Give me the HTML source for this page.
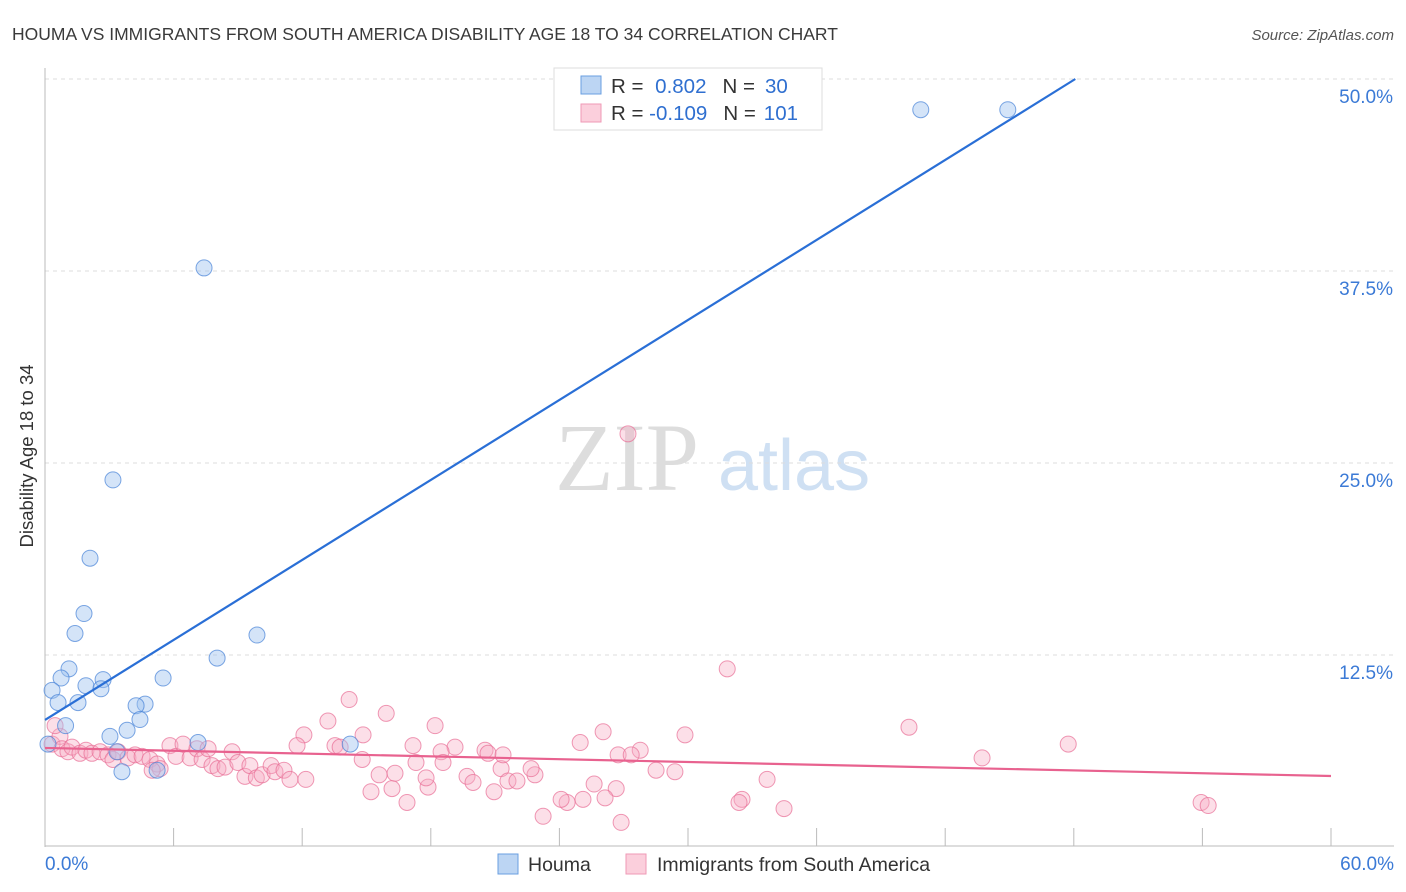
<!DOCTYPE html>
<html><head><meta charset="utf-8"><style>
body{margin:0;background:#fff;font-family:"Liberation Sans",sans-serif;}
svg{display:block}
</style></head><body>
<svg id="c" width="1406" height="892">
<text x="12" y="40" font-size="17.5" fill="#3a3a3a">HOUMA VS IMMIGRANTS FROM SOUTH AMERICA DISABILITY AGE 18 TO 34 CORRELATION CHART</text>
<text x="1394" y="40" font-size="15" fill="#555" font-style="italic" text-anchor="end">Source: ZipAtlas.com</text>
<text x="33" y="456" font-size="18.5" fill="#333" text-anchor="middle" transform="rotate(-90 33 456)">Disability Age 18 to 34</text>
<text x="555" y="490" font-size="96" fill="#ddd" font-family="Liberation Serif,serif">ZIP</text>
<text x="718" y="490" font-size="72" fill="#cfe0f3">atlas</text>
<g id="grid"></g><g id="axes"></g><g id="pts"></g><g id="lines"></g>
<g>
<rect x="554" y="68" width="268" height="62" fill="#fff" stroke="#ddd"/>
<rect x="581" y="76" width="20" height="18" fill="#bcd5f3" stroke="#6a9fe0"/>
<rect x="581" y="104" width="20" height="18" fill="#fbcfdc" stroke="#ef9ab6"/>
<text x="611" y="93" font-size="20.5" fill="#333">R = <tspan fill="#2f6fd0" dx="6">0.802</tspan><tspan dx="16" fill="#333">N =</tspan><tspan fill="#2f6fd0" dx="10">30</tspan></text>
<text x="611" y="120" font-size="20.5" fill="#333">R = <tspan fill="#2f6fd0">-0.109</tspan><tspan dx="16" fill="#333">N =</tspan><tspan fill="#2f6fd0" dx="8">101</tspan></text>
</g>
<g>
<rect x="498" y="854" width="20" height="20" fill="#bcd5f3" stroke="#6a9fe0"/>
<text x="528" y="871" font-size="19.5" fill="#333">Houma</text>
<rect x="626" y="854" width="20" height="20" fill="#fbcfdc" stroke="#ef9ab6"/>
<text x="657" y="871" font-size="19.5" fill="#333">Immigrants from South America</text>
</g>
</svg>
<script>
const yTicks=[12.5,25,37.5,50];
const yTickLabels=["12.5%","25.0%","37.5%","50.0%"];
const xTicks=[0,6,12,18,24,30,36,42,48,54,60];
const blueX=[40.86,44.92,7.42,3.17,2.1,1.82,1.4,9.89,8.03,1.12,0.75,2.71,0.33,5.51,1.91,2.61,1.54,0.61,4.67,4.25,4.43,3.83,3.03,0.96,7.14,14.24,3.36,0.14,3.59,5.23];
const blueY=[48.0,48.0,37.7,23.9,18.8,15.2,13.9,13.8,12.3,11.6,11.0,10.9,10.2,11.0,10.5,10.3,9.4,9.4,9.3,9.2,8.3,7.6,7.2,7.9,6.8,6.7,6.2,6.7,4.9,5.0];
const pinkX=[31.83,27.2,14.19,15.92,13.2,18.2,12.08,26.04,29.86,40.31,24.97,19.13,20.53,20.67,27.77,26.74,27.35,43.72,47.74,11.76,13.53,13.77,14.84,17.17,18.48,14.8,17.31,18.57,21.28,21.37,22.86,22.68,28.51,29.39,33.69,25.62,26.65,32.52,32.38,34.48,26.13,25.1,24.36,24.08,23.24,26.88,53.94,54.27,16.89,16.19,15.21,16.33,15.59,19.69,19.97,17.87,17.78,20.95,21.6,22.02,0.33,0.7,0.47,0.79,1.07,1.26,1.63,1.91,2.19,2.57,2.94,3.17,3.41,3.87,4.2,4.53,4.9,5.23,5.37,5.0,5.83,6.11,6.44,6.77,7.09,7.33,7.61,7.79,8.07,8.4,8.73,9.0,9.33,9.56,9.86,10.13,10.55,10.73,11.15,11.43,12.17];
const pinkY=[11.6,26.9,9.6,8.7,8.2,7.9,7.3,7.5,7.3,7.8,6.8,6.5,6.3,6.1,6.3,6.0,6.0,5.8,6.7,6.6,6.6,6.5,7.3,6.6,6.2,5.7,5.5,5.5,5.1,6.0,4.7,5.1,5.0,4.9,4.4,4.1,3.8,3.1,2.9,2.5,3.2,3.1,2.9,3.1,2.0,1.6,2.9,2.7,2.9,3.8,3.6,4.8,4.7,4.6,4.2,3.9,4.5,3.6,4.3,4.3,6.7,7.2,7.9,6.4,6.2,6.5,6.1,6.3,6.1,6.2,6.0,5.7,6.2,5.8,6.0,5.9,5.7,5.4,5.1,5.0,6.6,5.9,6.7,5.8,6.4,5.7,6.4,5.3,5.1,5.2,6.2,5.5,4.6,5.3,4.5,4.7,5.3,4.9,5.0,4.4,4.4];
const blueLine=[[0,8.27],[48.07,50]];
const pinkLine=[[0,6.45],[60,4.62]];
const X=v=>45+v/60*1286, Y=v=>847-v/12.5*192;
const NS="http://www.w3.org/2000/svg";
function mk(tag,attrs,parent){const e=document.createElementNS(NS,tag);for(const k in attrs)e.setAttribute(k,attrs[k]);document.getElementById(parent).appendChild(e);return e;}
yTicks.forEach((t,i)=>{
 const g=mk('line',{x1:45,x2:1394,y1:Y(t),y2:Y(t),stroke:'#ddd','stroke-dasharray':'4,4'},'grid');
 
 
 const l=mk('text',{x:1393,y:Y(t)+24,'font-size':19,fill:'#3b7ad6','text-anchor':'end'},'grid');
 l.textContent=yTickLabels[i];
 
 
});
const ax=mk('line',{x1:45,x2:45,y1:68,y2:847,stroke:'#bbb'},'axes');


const bx=mk('line',{x1:45,x2:1394,y1:846,y2:846,stroke:'#bbb'},'axes');


xTicks.forEach(t=>{
 const k=mk('line',{x1:X(t),x2:X(t),y1:828,y2:846,stroke:'#bbb'},'axes');
 
 
});
[[0,'0.0%','start',45],[60,'60.0%','end',1394]].forEach(a=>{
 const t=mk('text',{x:a[3],y:870,'font-size':19,fill:'#3b7ad6','text-anchor':a[2]},'axes');
 t.textContent=a[1];
 
 
});
pinkX.forEach((x,i)=>{
 const c=mk('circle',{cx:X(x),cy:Y(pinkY[i]),r:8,fill:'rgba(246,170,195,0.38)',stroke:'rgba(232,110,150,0.7)','stroke-width':1},'pts');
 
 
});
blueX.forEach((x,i)=>{
 const c=mk('circle',{cx:X(x),cy:Y(blueY[i]),r:8,fill:'rgba(160,196,240,0.45)',stroke:'rgba(70,130,215,0.7)','stroke-width':1},'pts');
 
 
});
const bl=mk('line',{x1:X(blueLine[0][0]),y1:Y(blueLine[0][1]),x2:X(blueLine[1][0]),y2:Y(blueLine[1][1]),stroke:'#2a6fd6','stroke-width':2.2},'lines');


const pl=mk('line',{x1:X(pinkLine[0][0]),y1:Y(pinkLine[0][1]),x2:X(pinkLine[1][0]),y2:Y(pinkLine[1][1]),stroke:'#e8628f','stroke-width':2.2},'lines');


</script>
</body></html>
